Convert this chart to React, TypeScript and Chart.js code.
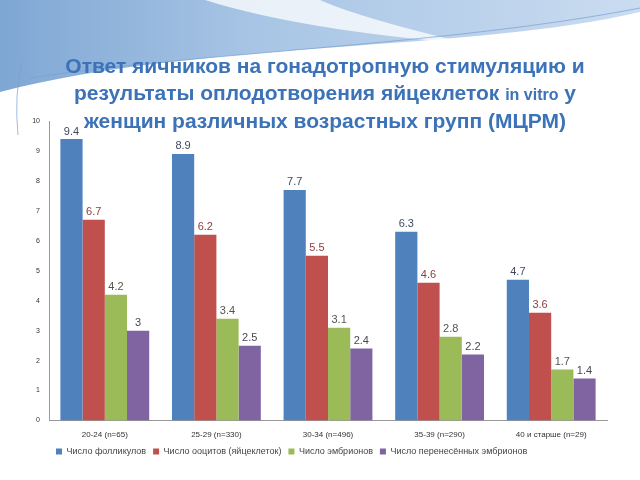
import React, { useEffect, useRef } from "react";
import { Chart, registerables } from "chart.js";

Chart.register(...registerables);

const categories = ["20-24 (n=65)", "25-29 (n=330)", "30-34 (n=496)", "35-39 (n=290)", "40 и старше (n=29)"];
const follicles = [9.4, 8.9, 7.7, 6.3, 4.7];
const oocytes = [6.7, 6.2, 5.5, 4.6, 3.6];
const embryos = [4.2, 3.4, 3.1, 2.8, 1.7];
const transferred = [3, 2.5, 2.4, 2.2, 1.4];
const seriesNames = ["Число фолликулов", "Число ооцитов (яйцеклеток)", "Число эмбрионов", "Число перенесённых эмбрионов"];
const seriesColors = ["#4F81BD", "#C0504D", "#9BBB59", "#8064A2"];
const labelColors = ["#404a5e", "#8e4040", "#505848", "#4c4458"];

const backgroundPlugin = {
  id: "bgSwoosh",
  beforeDraw(chart: any) {
    const ctx = chart.ctx;
    const w = chart.width;
    ctx.save();
    ctx.fillStyle = "#ffffff";
    ctx.fillRect(0, 0, w, chart.height);
    const g = ctx.createLinearGradient(0, 0, w, 0);
    g.addColorStop(0, "#7fa7d4");
    g.addColorStop(0.4, "#a8c5e5");
    g.addColorStop(1, "#cadcf0");
    ctx.beginPath();
    ctx.moveTo(0, 0);
    ctx.lineTo(w, 0);
    ctx.lineTo(w, 12);
    ctx.bezierCurveTo(470, 52, 200, 40, 0, 92);
    ctx.closePath();
    ctx.fillStyle = g;
    ctx.fill();
    ctx.beginPath();
    ctx.moveTo(205, 0);
    ctx.quadraticCurveTo(300, 30, 470, 44);
    ctx.quadraticCurveTo(360, 18, 320, 0);
    ctx.closePath();
    ctx.fillStyle = "rgba(255,255,255,0.75)";
    ctx.fill();
    ctx.strokeStyle = "rgba(120,160,210,0.7)";
    ctx.lineWidth = 1;
    ctx.beginPath();
    ctx.moveTo(30, 78);
    ctx.bezierCurveTo(200, 52, 450, 45, 640, 8);
    ctx.stroke();
    ctx.beginPath();
    ctx.moveTo(22, 62);
    ctx.quadraticCurveTo(14, 95, 18, 135);
    ctx.stroke();
    ctx.restore();
  },
};

const valueLabelPlugin = {
  id: "valueLabels",
  afterDatasetsDraw(chart: any) {
    const ctx = chart.ctx;
    ctx.save();
    ctx.font = "11px 'Liberation Sans', Arial, sans-serif";
    ctx.textAlign = "center";
    ctx.textBaseline = "bottom";
    chart.data.datasets.forEach((ds: any, i: number) => {
      const meta = chart.getDatasetMeta(i);
      ctx.fillStyle = labelColors[i];
      meta.data.forEach((el: any, j: number) => {
        ctx.fillText(String(ds.data[j]), el.x, el.y - 2);
      });
    });
    ctx.restore();
  },
};

export default function App() {
  const ref = useRef<HTMLCanvasElement>(null);
  useEffect(() => {
    const chart = new Chart(ref.current as HTMLCanvasElement, {
      type: "bar",
      data: {
        labels: categories,
        datasets: [follicles, oocytes, embryos, transferred].map((d, i) => ({
          label: seriesNames[i],
          data: d,
          backgroundColor: seriesColors[i],
          borderWidth: 0,
          categoryPercentage: 0.796,
          barPercentage: 1,
        })),
      },
      options: {
        animation: false,
        responsive: false,
        layout: { padding: { top: 121, left: 0, right: 33, bottom: 14 } },
        plugins: {
          legend: {
            position: "bottom",
            align: "start",
            fullSize: false,
            labels: {
              boxWidth: 6,
              boxHeight: 6,
              padding: 7,
              color: "#444",
              font: { size: 9, family: "'Liberation Sans', Arial, sans-serif" },
            },
          },
          title: { display: false },
          tooltip: { enabled: false },
        },
        scales: {
          x: {
            grid: { display: false },
            border: { display: true, color: "#999" },
            ticks: { color: "#333", font: { size: 8, family: "'Liberation Sans', Arial, sans-serif" }, padding: 1, maxRotation: 0 },
            afterFit: (s: any) => {
              s.height = 19.5;
            },
          },
          y: {
            min: 0,
            max: 10,
            grid: { display: false },
            border: { display: true, color: "#999" },
            ticks: { stepSize: 1, color: "#333", font: { size: 7, family: "'Liberation Sans', Arial, sans-serif" }, padding: 1 },
            afterFit: (s: any) => {
              s.width = 49;
            },
          },
        },
      },
      plugins: [backgroundPlugin, valueLabelPlugin],
    });
    return () => chart.destroy();
  }, []);
  return (
    <div style={{ position: "absolute", left: 0, top: 0, width: 640, height: 480, overflow: "hidden" }}>
      <canvas ref={ref} width={640} height={480} style={{ position: "absolute", left: 0, top: 0 }} />
      <div
        style={{
          position: "absolute",
          left: 0,
          top: 53,
          width: 650,
          textAlign: "center",
          fontFamily: "'Liberation Sans', Arial, sans-serif",
          fontWeight: "bold",
          fontSize: 21,
          lineHeight: "26.5px",
          color: "#3B72B8",
          pointerEvents: "none",
        }}
      >
        Ответ яичников на гонадотропную стимуляцию и
        <br />
        результаты оплодотворения яйцеклеток <span style={{ fontSize: 16 }}>in vitro</span> у
        <br />
        женщин различных возрастных групп (МЦРМ)
      </div>
    </div>
  );
}
